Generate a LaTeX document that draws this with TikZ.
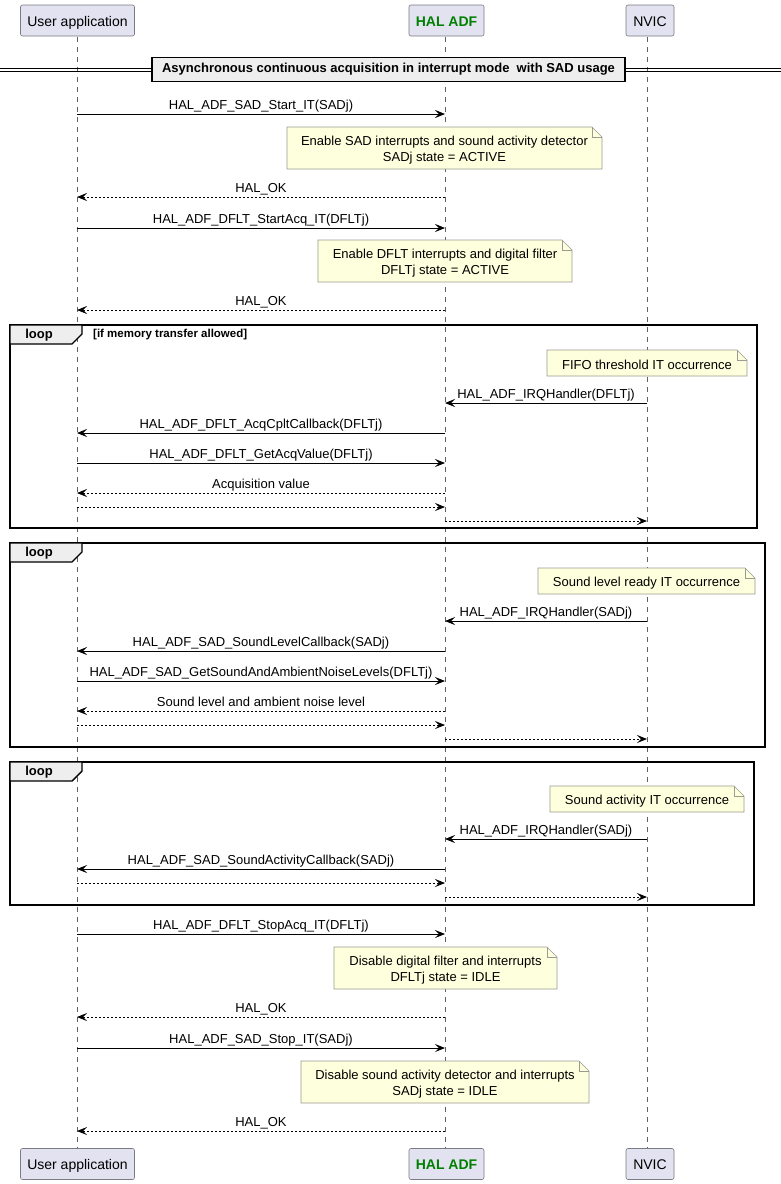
\documentclass[tikz,border=0pt]{standalone}
\usepackage{fontspec}
\setmainfont{Liberation Sans}
\usetikzlibrary{arrows.meta}
\definecolor{partfill}{HTML}{E2E2F0}
\definecolor{partdraw}{HTML}{7A7A82}
\definecolor{notefill}{HTML}{FEFFDD}
\definecolor{notedraw}{HTML}{9A9A90}
\definecolor{grpfill}{HTML}{EEEEEE}
\definecolor{halgreen}{HTML}{008000}
\definecolor{lifec}{HTML}{606060}
\newcommand\Msg[5]{\draw[#1] (#2 |- 0,#4) -- node[lbl] (m#4) {#5} (#3 |- 0,#4);}
\newcommand\NoteBox[6]{%
  \draw[notestyle] (#2,#3) -- ({#4-10},#3) -- (#4,{#3+10}) -- (#4,#5) -- (#2,#5) -- cycle;
  \draw[notestyle,fill=none] ({#4-10},#3) -- ({#4-10},{#3+10}) -- (#4,{#3+10});
  \node[notetext] (#1) at ({(#2+#4)/2},{(#3+#5)/2+2}) {#6};}
\newcommand\LoopFrame[5]{%
  \draw[frame] (#2,#3) rectangle (#4,#5);
  \draw[frame,fill=grpfill] (#2,#3) -- (82,#3) -- (82,{#3+9}) -- (72,{#3+19}) -- (#2,{#3+19}) -- cycle;
  \node[looptxt] (#1) at (39,{#3+10}) {loop};}
\begin{document}
\begin{tikzpicture}[x=1pt,y=-1pt,
  every node/.style={font=\fontsize{13}{15.5}\selectfont, inner sep=0pt},
  part/.style={draw=partdraw, fill=partfill, line width=0.6pt, rounded corners=2pt, minimum height=31pt,
    font=\fontsize{14}{16}\selectfont, text height=14pt, text depth=3pt},
  life/.style={draw=lifec, line width=0.5pt, dash pattern=on 5pt off 5pt},
  msg/.style={draw=black, line width=0.9pt, -{Stealth[length=10pt,width=8pt,inset=4pt]}},
  ret/.style={msg, dash pattern=on 2pt off 2pt},
  lbl/.style={midway, anchor=base, yshift=5pt},
  notestyle/.style={draw=notedraw, fill=notefill, line width=0.6pt},
  notetext/.style={align=center},
  frame/.style={draw=black, line width=1.4pt},
  looptxt/.style={font=\fontsize{13}{15}\selectfont\bfseries},
  condtxt/.style={font=\fontsize{11.5}{13}\selectfont\bfseries, anchor=west}
]
\useasboundingbox (0,0) rectangle (781,1184);
\fill[white] (0,0) rectangle (781,1184);

% lifeline anchors
\coordinate (ua) at (77,37);
\coordinate (ad) at (445,37);
\coordinate (nv) at (647,37);

% participants
\node[part, minimum width=114pt] (uaT) at (77.5,20.5) {User application};
\node[part, minimum width=75pt, text=halgreen, font=\fontsize{14}{16}\selectfont\bfseries] (adT) at (446.5,20.5) {HAL ADF};
\node[part, minimum width=48pt] (nvT) at (650,20.5) {NVIC};
\node[part, minimum width=114pt] (uaB) at (77.5,1164) {User application};
\node[part, minimum width=75pt, text=halgreen, font=\fontsize{14}{16}\selectfont\bfseries] (adB) at (446.5,1164) {HAL ADF};
\node[part, minimum width=48pt] (nvB) at (650,1164) {NVIC};

\draw[life] (ua) -- (ua |- uaB.north);
\draw[life] (ad) -- (ad |- adB.north);
\draw[life] (nv) -- (nv |- nvB.north);

% divider
\draw[black, line width=0.9pt] (0,68) -- (781,68);
\draw[black, line width=0.9pt] (0,71.5) -- (781,71.5);
\node[draw=black, line width=1.4pt, fill=grpfill, minimum width=473pt, minimum height=24pt,
      font=\fontsize{13}{15}\selectfont\bfseries] (div) at (388.5,69.5)
      {Asynchronous continuous acquisition in interrupt mode\ \ with SAD usage};

% initialisation
\Msg{msg}{ua}{ad}{114}{HAL\_ADF\_SAD\_Start\_IT(SADj)}
\NoteBox{n1}{287}{127}{602}{169}{Enable SAD interrupts and sound activity detector\\SADj state = ACTIVE}
\Msg{ret}{ad}{ua}{197}{HAL\_OK}
\Msg{msg}{ua}{ad}{228}{HAL\_ADF\_DFLT\_StartAcq\_IT(DFLTj)}
\NoteBox{n2}{318}{240}{572}{282}{Enable DFLT interrupts and digital filter\\DFLTj state = ACTIVE}
\Msg{ret}{ad}{ua}{310}{HAL\_OK}

% loop 1
\LoopFrame{l1}{10}{325}{757}{528}
\node[condtxt] (c1) at (93,335) {[if memory transfer allowed]};
\NoteBox{n3}{547}{350}{747}{376}{FIFO threshold IT occurrence}
\Msg{msg}{nv}{ad}{403}{HAL\_ADF\_IRQHandler(DFLTj)}
\Msg{msg}{ad}{ua}{433}{HAL\_ADF\_DFLT\_AcqCpltCallback(DFLTj)}
\Msg{msg}{ua}{ad}{463}{HAL\_ADF\_DFLT\_GetAcqValue(DFLTj)}
\Msg{ret}{ad}{ua}{493}{Acquisition value}
\Msg{ret}{ua}{ad}{507}{}
\Msg{ret}{ad}{nv}{521}{}

% loop 2
\LoopFrame{l2}{10}{543}{765}{747}
\NoteBox{n4}{538}{568}{755}{594}{Sound level ready IT occurrence}
\Msg{msg}{nv}{ad}{621}{HAL\_ADF\_IRQHandler(SADj)}
\Msg{msg}{ad}{ua}{651}{HAL\_ADF\_SAD\_SoundLevelCallback(SADj)}
\Msg{msg}{ua}{ad}{681}{HAL\_ADF\_SAD\_GetSoundAndAmbientNoiseLevels(DFLTj)}
\Msg{ret}{ad}{ua}{711}{Sound level and ambient noise level}
\Msg{ret}{ua}{ad}{725}{}
\Msg{ret}{ad}{nv}{739}{}

% loop 3
\LoopFrame{l3}{10}{762}{754}{905}
\NoteBox{n5}{550}{786}{744}{812}{Sound activity IT occurrence}
\Msg{msg}{nv}{ad}{839}{HAL\_ADF\_IRQHandler(SADj)}
\Msg{msg}{ad}{ua}{869}{HAL\_ADF\_SAD\_SoundActivityCallback(SADj)}
\Msg{ret}{ua}{ad}{883}{}
\Msg{ret}{ad}{nv}{897}{}

% stop
\Msg{msg}{ua}{ad}{934}{HAL\_ADF\_DFLT\_StopAcq\_IT(DFLTj)}
\NoteBox{n6}{334}{947}{557}{989}{Disable digital filter and interrupts\\DFLTj state = IDLE}
\Msg{ret}{ad}{ua}{1017}{HAL\_OK}
\Msg{msg}{ua}{ad}{1048}{HAL\_ADF\_SAD\_Stop\_IT(SADj)}
\NoteBox{n7}{301}{1061}{589}{1103}{Disable sound activity detector and interrupts\\SADj state = IDLE}
\Msg{ret}{ad}{ua}{1131}{HAL\_OK}
\end{tikzpicture}
\end{document}
